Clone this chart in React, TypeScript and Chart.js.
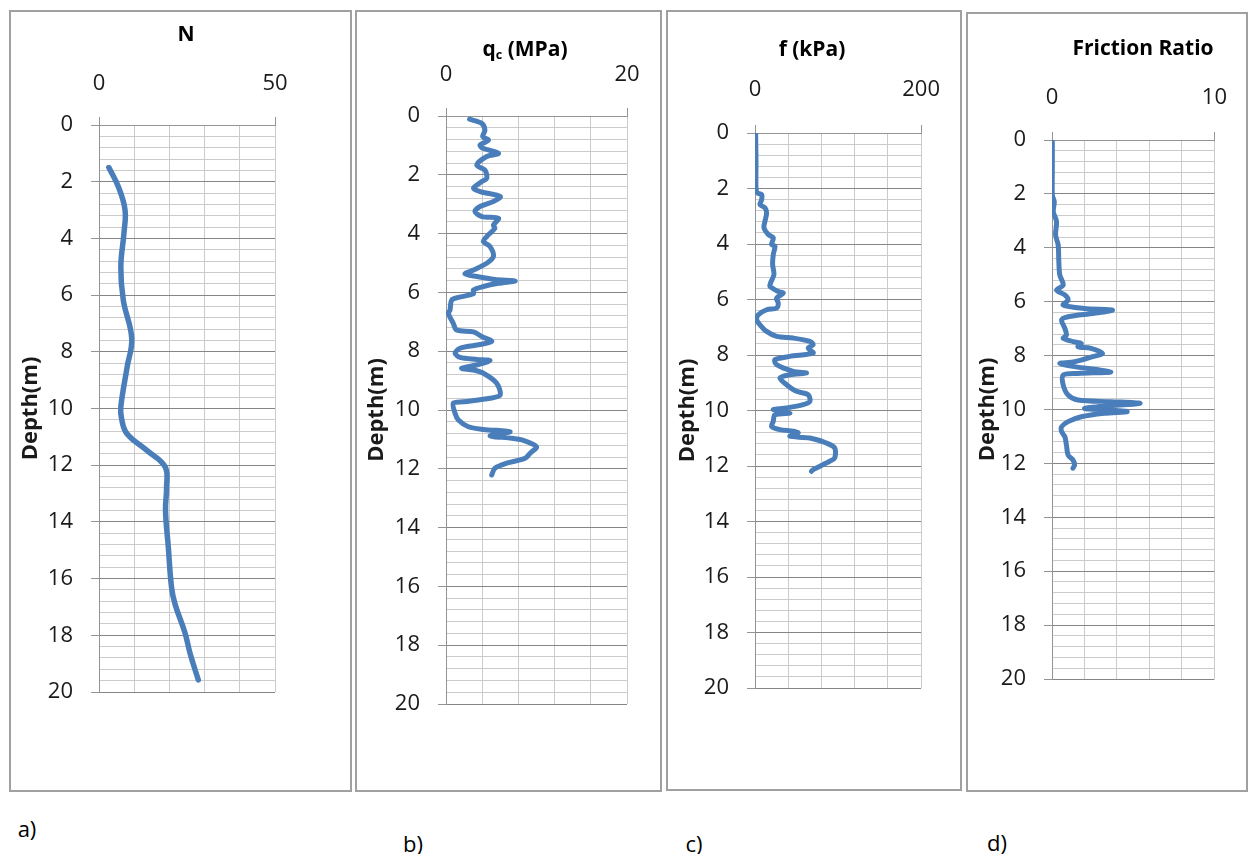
import React, { useEffect, useRef } from "react";
import { Chart, registerables } from "chart.js";

Chart.register(...registerables);

// ---------- data ----------
const depthTicks = [0, 2, 4, 6, 8, 10, 12, 14, 16, 18, 20];

const nDepth = [1.5, 2.18, 3.0, 3.8, 5.0, 6.18, 7.53, 8.53, 9.94, 10.35, 10.88, 11.47, 12.06, 12.77, 13.6, 14.9, 16.3, 16.9, 17.9, 18.65, 19.57];
const nValues = [2.8, 5.5, 7.4, 7.1, 6.2, 6.9, 9.3, 8.0, 6.2, 6.4, 7.9, 13.5, 18.8, 19.2, 18.9, 19.7, 20.6, 21.6, 24.4, 25.9, 28.2];

const qcDepth = [0.11, 0.25, 0.48, 0.7, 0.82, 0.99, 1.1, 1.27, 1.38, 1.67, 1.84, 2.12, 2.23, 2.46, 2.57, 2.74, 2.91, 3.08, 3.25, 3.42, 3.48, 3.71, 3.82, 4.1, 4.27, 4.44, 4.78, 5.01, 5.24, 5.37, 5.46, 5.56, 5.61, 5.69, 5.8, 5.92, 6.05, 6.17, 6.26, 6.6, 6.71, 7.05, 7.28, 7.34, 7.5, 7.67, 7.79, 7.9, 8.07, 8.21, 8.28, 8.32, 8.47, 8.58, 8.64, 8.75, 9.09, 9.49, 9.6, 9.72, 9.77, 10.11, 10.34, 10.57, 10.66, 10.74, 10.88, 10.96, 11.02, 11.25, 11.47, 11.64, 11.81, 11.98, 12.21];
const qcValues = [2.6, 3.95, 4.3, 4.06, 4.7, 3.76, 4.1, 5.8, 4.5, 3.4, 4.3, 4.5, 3.95, 3.03, 3.77, 6.0, 5.24, 3.76, 3.2, 3.95, 5.8, 5.24, 5.4, 4.5, 4.13, 4.87, 5.24, 4.5, 3.03, 2.1, 3.4, 5.4, 7.64, 5.8, 4.13, 3.03, 3.03, 1.37, 0.63, 0.44, 0.26, 0.8, 1.18, 3.03, 3.95, 5.05, 3.4, 1.55, 1.0, 1.55, 3.4, 4.87, 3.4, 1.73, 3.03, 4.13, 5.6, 5.98, 4.87, 1.92, 0.81, 1.0, 1.37, 2.47, 4.13, 7.08, 4.87, 7.27, 8.4, 10.0, 9.3, 8.75, 6.7, 5.4, 5.05];

const fDepth = [0.06, 1.02, 1.98, 2.16, 2.22, 2.4, 2.58, 2.7, 2.88, 3.18, 3.42, 3.66, 3.78, 4.02, 4.08, 4.38, 4.74, 5.1, 5.4, 5.53, 5.71, 5.77, 5.95, 6.13, 6.31, 6.37, 6.55, 6.73, 6.91, 7.15, 7.33, 7.39, 7.51, 7.63, 7.75, 7.93, 8.05, 8.17, 8.35, 8.59, 8.65, 8.71, 8.83, 9.07, 9.31, 9.43, 9.67, 9.79, 9.91, 9.97, 10.09, 10.15, 10.39, 10.57, 10.69, 10.75, 10.81, 10.93, 10.99, 11.17, 11.35, 11.71, 11.83, 11.95, 12.13, 12.19];
const fValues = [0.8, 1.2, 1.2, 2.8, 8, 8, 6, 12, 14, 12, 10.8, 16, 22, 20, 24, 22, 21.2, 22.8, 18.8, 18, 28, 34, 26, 28, 26, 14, 4, 2, 6, 14, 26, 46, 66, 70, 64, 70, 42, 24, 26, 46, 62, 42, 30, 38, 50, 64, 66, 58, 38, 22, 42, 24, 22, 20, 30, 46, 52, 42, 66, 86, 96, 96, 90, 82, 70, 68];

const frDepth = [0.06, 1.05, 2.04, 2.29, 2.66, 3.03, 3.52, 3.9, 4.51, 5.01, 5.38, 5.57, 5.75, 5.94, 6.12, 6.25, 6.31, 6.43, 6.56, 6.68, 6.99, 7.24, 7.36, 7.48, 7.55, 7.67, 7.73, 7.92, 8.04, 8.23, 8.29, 8.41, 8.6, 8.66, 8.72, 9.09, 9.46, 9.65, 9.71, 9.77, 9.86, 9.96, 10.02, 10.08, 10.14, 10.27, 10.45, 10.64, 10.82, 11.01, 11.32, 11.69, 11.87, 12.06, 12.18];
const frValues = [0.02, 0.02, 0.02, 0.14, 0.08, 0.28, 0.22, 0.38, 0.42, 0.48, 0.69, 0.28, 0.79, 0.99, 0.69, 2.0, 3.72, 2.6, 0.99, 0.59, 0.79, 0.89, 0.69, 1.29, 1.8, 1.6, 2.4, 3.11, 2.5, 1.39, 0.48, 1.39, 3.62, 1.6, 0.69, 0.69, 0.99, 1.6, 3.62, 5.43, 3.62, 2.0, 3.62, 4.63, 3.21, 1.8, 0.99, 0.59, 0.59, 0.79, 0.89, 0.99, 1.29, 1.39, 1.29];

const nAxisLabels = [0, 50];
const qcAxisLabels = [0, 20];
const fAxisLabels = [0, 200];
const frAxisLabels = [0, 10];

const panelLetters = ["a)", "b)", "c)", "d)"];

// ---------- styling / layout ----------
const FONT = "'Open Sans', 'Noto Sans', sans-serif";
const LINE_COLOR = "#4a7ebb";
const TEXT_COLOR = "#1a1a1a";
const MINOR_GRID = "#cbcbcb";
const MAJOR_GRID = "#858585";
const AXIS_COLOR = "#949494";

type Box = { x: number; y: number; w: number; h: number };
type Area = { left: number; top: number; right: number; bottom: number };

type PanelSpec = {
  box: Box;
  area: Area;
  depth: number[];
  values: number[];
  axisLabels: number[];
  xStep: number;
  xPad: number;
  lineWidth: number;
  tension: number;
  title: React.ReactNode;
  titlePos: [number, number];
  letterPos: [number, number];
  letter: string;
};

const isMajorDepth = (v: number) => depthTicks.some((t) => Math.abs(t - v) < 1e-6);

function PanelChart({ spec }: { spec: PanelSpec }) {
  const ref = useRef<HTMLCanvasElement>(null);
  useEffect(() => {
    const { box, area, depth, values, axisLabels, xStep, xPad, lineWidth, tension } = spec;
    const xMin = axisLabels[0];
    const xMax = axisLabels[axisLabels.length - 1];
    const isLabelX = (v: number) => axisLabels.some((t) => Math.abs(t - v) < 1e-6);
    const chart = new Chart(ref.current as HTMLCanvasElement, {
      type: "scatter",
      data: {
        datasets: [
          {
            data: depth.map((d, i) => ({ x: values[i], y: d })),
            showLine: true,
            borderColor: LINE_COLOR,
            backgroundColor: LINE_COLOR,
            borderWidth: lineWidth,
            pointRadius: 0,
            pointHoverRadius: 0,
            tension,
            fill: false,
            borderCapStyle: "round",
            borderJoinStyle: "round",
          } as any,
        ],
      },
      options: {
        animation: false,
        responsive: false,
        devicePixelRatio: 1,
        events: [],
        layout: {
          padding: {
            left: 0,
            top: 0,
            right: box.x + box.w - area.right,
            bottom: box.y + box.h - area.bottom,
          },
        },
        plugins: {
          legend: { display: false },
          tooltip: { enabled: false },
          title: { display: false },
        },
        scales: {
          x: {
            type: "linear",
            position: "top",
            min: xMin,
            max: xMax,
            afterFit: (s: any) => {
              s.height = area.top - box.y;
            },
            ticks: {
              stepSize: xStep,
              autoSkip: false,
              maxRotation: 0,
              padding: xPad,
              color: TEXT_COLOR,
              font: { family: FONT, size: 22 },
              callback: (v: any) => (isLabelX(Number(v)) ? String(v) : ""),
            },
            grid: {
              color: MINOR_GRID,
              lineWidth: 1,
              tickLength: 8,
              tickColor: (ctx: any) => (ctx.tick && isLabelX(ctx.tick.value) ? AXIS_COLOR : "rgba(0,0,0,0)"),
            },
            border: { display: true, color: AXIS_COLOR },
          },
          y: {
            type: "linear",
            reverse: true,
            min: 0,
            max: 20,
            afterFit: (s: any) => {
              s.width = area.left - box.x;
            },
            title: {
              display: true,
              text: "Depth(m)",
              color: TEXT_COLOR,
              font: { family: FONT, size: 22, weight: "bold" },
              padding: { top: 9, bottom: 0 },
            },
            ticks: {
              stepSize: 0.4,
              maxTicksLimit: 100,
              autoSkip: false,
              padding: 18,
              color: TEXT_COLOR,
              font: { family: FONT, size: 22 },
              callback: (v: any) => (isMajorDepth(Number(v)) ? String(Math.round(Number(v))) : ""),
            },
            grid: {
              color: (ctx: any) => (ctx.tick && isMajorDepth(ctx.tick.value) ? MAJOR_GRID : MINOR_GRID),
              lineWidth: 1,
              tickLength: 8,
              tickColor: (ctx: any) => (ctx.tick && isMajorDepth(ctx.tick.value) ? AXIS_COLOR : "rgba(0,0,0,0)"),
            },
            border: { display: true, color: AXIS_COLOR },
          },
        },
      } as any,
    });
    return () => chart.destroy();
  }, [spec]);

  const { box } = spec;
  return (
    <>
      <div
        style={{
          position: "absolute",
          left: box.x,
          top: box.y,
          width: box.w,
          height: box.h,
          boxSizing: "border-box",
          border: "2px solid #a0a0a0",
        }}
      />
      <canvas
        ref={ref}
        width={box.w}
        height={box.h}
        style={{ position: "absolute", left: box.x, top: box.y, width: box.w, height: box.h }}
      />
      <div
        style={{
          position: "absolute",
          left: spec.titlePos[0],
          top: spec.titlePos[1],
          transform: "translate(-50%, -50%)",
          font: `bold 21px ${FONT}`,
          color: "#000",
          whiteSpace: "nowrap",
          lineHeight: 1,
        }}
      >
        {spec.title}
      </div>
      <div
        style={{
          position: "absolute",
          left: spec.letterPos[0],
          top: spec.letterPos[1],
          transform: "translate(-50%, -50%)",
          font: `22px ${FONT}`,
          color: "#000",
          whiteSpace: "nowrap",
          lineHeight: 1,
        }}
      >
        {spec.letter}
      </div>
    </>
  );
}

const panels: PanelSpec[] = [
  {
    box: { x: 9, y: 10, w: 343, h: 782 },
    area: { left: 99, top: 125, right: 275, bottom: 692 },
    depth: nDepth,
    values: nValues,
    axisLabels: nAxisLabels,
    xStep: 10,
    xPad: 20,
    lineWidth: 5.5,
    tension: 0.4,
    title: "N",
    titlePos: [186, 33],
    letterPos: [27, 828],
    letter: panelLetters[0],
  },
  {
    box: { x: 355, y: 10, w: 307, h: 782 },
    area: { left: 446, top: 116, right: 627, bottom: 704 },
    depth: qcDepth,
    values: qcValues,
    axisLabels: qcAxisLabels,
    xStep: 4,
    xPad: 20,
    lineWidth: 5,
    tension: 0.3,
    title: (
      <span>
        q<sub style={{ fontSize: "0.6em", verticalAlign: "-0.25em" }}>c</sub> (MPa)
      </span>
    ),
    titlePos: [525, 50],
    letterPos: [413, 843],
    letter: panelLetters[1],
  },
  {
    box: { x: 666, y: 10, w: 296, h: 781 },
    area: { left: 755, top: 133, right: 922, bottom: 688 },
    depth: fDepth,
    values: fValues,
    axisLabels: fAxisLabels,
    xStep: 40,
    xPad: 22,
    lineWidth: 5,
    tension: 0.3,
    title: "f (kPa)",
    titlePos: [812, 48],
    letterPos: [694, 843],
    letter: panelLetters[2],
  },
  {
    box: { x: 966, y: 12, w: 282, h: 780 },
    area: { left: 1052, top: 140, right: 1217, bottom: 679 },
    depth: frDepth,
    values: frValues,
    axisLabels: frAxisLabels,
    xStep: 2,
    xPad: 21,
    lineWidth: 5,
    tension: 0.3,
    title: "Friction Ratio",
    titlePos: [1143, 47],
    letterPos: [997, 842],
    letter: panelLetters[3],
  },
];

export default function App() {
  return (
    <div style={{ position: "absolute", left: 0, top: 0, width: 1253, height: 854, background: "#fff" }}>
      {panels.map((p, i) => (
        <PanelChart key={i} spec={p} />
      ))}
    </div>
  );
}
